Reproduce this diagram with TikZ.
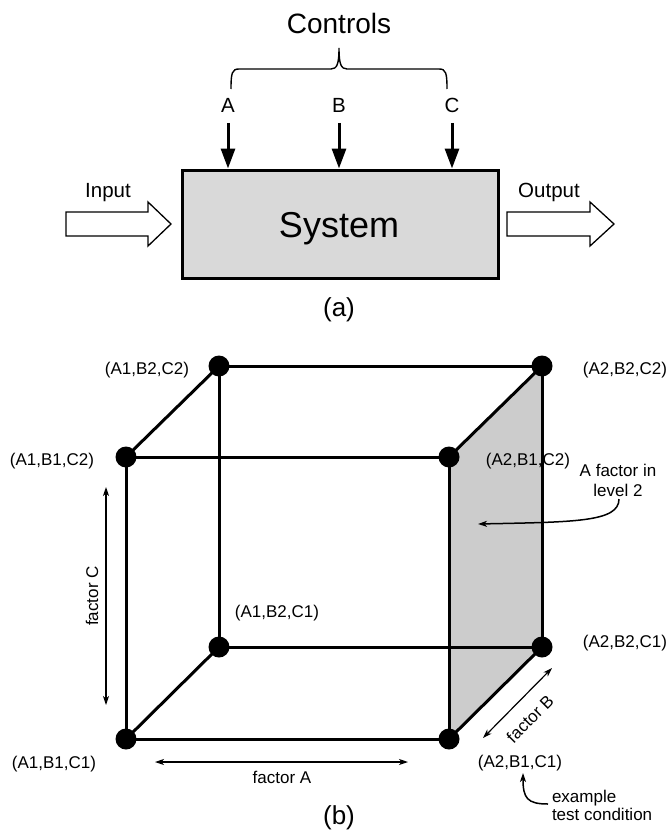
\documentclass[tikz,border=0pt]{standalone}
\usepackage{fontspec}
\setmainfont{Liberation Sans}
\usetikzlibrary{arrows.meta}
\definecolor{boxgray}{RGB}{217,217,217}
\definecolor{facegray}{RGB}{204,204,204}
\tikzset{
  every node/.style={inner sep=0pt, outer sep=0pt},
  titletext/.style={font=\fontsize{28}{32}\selectfont},
  captext/.style={font=\fontsize{26}{30}\selectfont, anchor=base},
  ctrllbl/.style={font=\fontsize{20.5}{24}\selectfont, anchor=base},
  sysbox/.style={draw, line width=3pt, fill=boxgray, minimum width=316pt, minimum height=108pt},
  ctrlarrow/.style={line width=3pt, -{Triangle[length=20pt,width=14pt]}},
  hollowarrow/.style={draw, line width=1.3pt, fill=white, line join=miter},
  bracepath/.style={line width=1.4pt},
  cubeedge/.style={line width=3pt},
  vtxdot/.style={circle, fill=black, minimum size=21pt},
  vlbl/.style={font=\fontsize{17}{20}\selectfont},
  thinhead/.tip={Stealth[length=9pt,width=6pt,inset=2.5pt]},
  dimarrow/.style={line width=1.2pt, thinhead-thinhead},
  notearrow/.style={line width=1.5pt, -thinhead},
}
\begin{document}
\begin{tikzpicture}[x=1pt,y=-1pt]
\useasboundingbox[fill=white] (0,0) rectangle (668,832);

% ---------- (a) the system with its controls ----------
\node[titletext] (controls) at (339,23) {Controls};
\draw[bracepath] (231,89) .. controls (231,73) and (232,69) .. (239,69)
  -- (331,69) .. controls (337,69) and (339,64) .. (339,48)
  .. controls (339,64) and (341,69) .. (347,69)
  -- (439,69) .. controls (446,69) and (447,73) .. (447,89);

\node[ctrllbl] (lblA) at (228,113) {A};
\node[ctrllbl] (lblB) at (339,113) {B};
\node[ctrllbl] (lblC) at (452,113) {C};

\node[sysbox] (sys) at (340,224) {};
\node[font=\fontsize{36}{40}\selectfont, anchor=base] (systxt) at (339,237) {System};

\coordinate (ctlA) at (228,123);
\coordinate (ctlB) at (339,123);
\coordinate (ctlC) at (452,123);
\draw[ctrlarrow, shorten >=1.5pt] (ctlA) -- (ctlA |- sys.north);
\draw[ctrlarrow, shorten >=1.5pt] (ctlB) -- (ctlB |- sys.north);
\draw[ctrlarrow, shorten >=1.5pt] (ctlC) -- (ctlC |- sys.north);

\node[ctrllbl] (inlbl) at (108,197) {Input};
\node[ctrllbl] (outlbl) at (549,197) {Output};
\coordinate (inTail) at (66,224);
\coordinate (outTail) at (507,224);
\draw[hollowarrow] (inTail) ++(0,-12) -- ++(82,0) -- ++(0,-10) -- ++(23,22)
  -- ++(-23,22) -- ++(0,-10) -- ++(-82,0) -- cycle;
\draw[hollowarrow] (outTail) ++(0,-12) -- ++(83,0) -- ++(0,-10) -- ++(24,22)
  -- ++(-24,22) -- ++(0,-10) -- ++(-83,0) -- cycle;

\node[captext] (capa) at (339,316) {(a)};

% ---------- (b) the 2x2x2 design cube ----------
\coordinate (pA1B1C2) at (126,457);
\coordinate (pA2B1C2) at (449,457);
\coordinate (pA1B1C1) at (126,739);
\coordinate (pA2B1C1) at (449,739);
\coordinate (pA1B2C2) at (219,366);
\coordinate (pA2B2C2) at (542,366);
\coordinate (pA1B2C1) at (219,647);
\coordinate (pA2B2C1) at (542,647);

% face where factor A is at level 2
\fill[facegray] (pA2B1C2) -- (pA2B2C2) -- (pA2B2C1) -- (pA2B1C1) -- cycle;

% corner labels
\node[vlbl] (tA1B2C2) at (147,370) {(A1,B2,C2)};
\node[vlbl] (tA2B2C2) at (625,370) {(A2,B2,C2)};
\node[vlbl] (tA1B1C2) at (52,461) {(A1,B1,C2)};
\node[vlbl] (tA2B1C2) at (528,461) {(A2,B1,C2)};
\node[vlbl] (tA1B2C1) at (277,613) {(A1,B2,C1)};
\node[vlbl] (tA2B2C1) at (625,643) {(A2,B2,C1)};
\node[vlbl] (tA1B1C1) at (54,764) {(A1,B1,C1)};
\node[vlbl] (tA2B1C1) at (520,763) {(A2,B1,C1)};

% edges
\draw[cubeedge] (pA1B1C2) -- (pA2B1C2) -- (pA2B1C1) -- (pA1B1C1) -- cycle;
\draw[cubeedge] (pA1B2C2) -- (pA2B2C2) -- (pA2B2C1) -- (pA1B2C1) -- cycle;
\draw[cubeedge] (pA1B1C2) -- (pA1B2C2);
\draw[cubeedge] (pA2B1C2) -- (pA2B2C2);
\draw[cubeedge] (pA1B1C1) -- (pA1B2C1);
\draw[cubeedge] (pA2B1C1) -- (pA2B2C1);

% test conditions
\foreach \p in {A1B1C2,A2B1C2,A1B1C1,A2B1C1,A1B2C2,A2B2C2,A1B2C1,A2B2C1}
  \node[vtxdot] (d\p) at (p\p) {};

% factor ranges
\coordinate (fAl) at (155,762);
\coordinate (fAr) at (408,762);
\draw[dimarrow] (fAl) -- (fAr);
\node[vlbl] (fAtxt) at (282,777) {factor A};

\coordinate (fCt) at (106,487);
\coordinate (fCb) at (106,705);
\draw[dimarrow] (fCt) -- (fCb);
\node[vlbl, rotate=90] (fCtxt) at (92,596) {factor C};

\coordinate (fBl) at (483,738);
\coordinate (fBu) at (552,668);
\draw[dimarrow] (fBl) -- (fBu);
\node[vlbl, rotate=45] (fBtxt) at (530,719) {factor B};

% annotations
\node[vlbl, align=center] (lvltxt) at (618,480) {A factor in\\level 2};
\coordinate (lvlfrom) at (619,499);
\coordinate (lvlto) at (478,524);
\draw[notearrow] (lvlfrom) .. controls (619,522) and (575,522) .. (lvlto);

\node[vlbl, anchor=base west] (ex1) at (552,802) {example};
\node[vlbl, anchor=base west] (ex2) at (552,820) {test condition};
\coordinate (exfrom) at (548,804);
\coordinate (exto) at (523,773);
\draw[notearrow] (exfrom) .. controls (527,804) and (523,798) .. (exto);

\node[captext] (capb) at (339,824) {(b)};
\end{tikzpicture}
\end{document}
